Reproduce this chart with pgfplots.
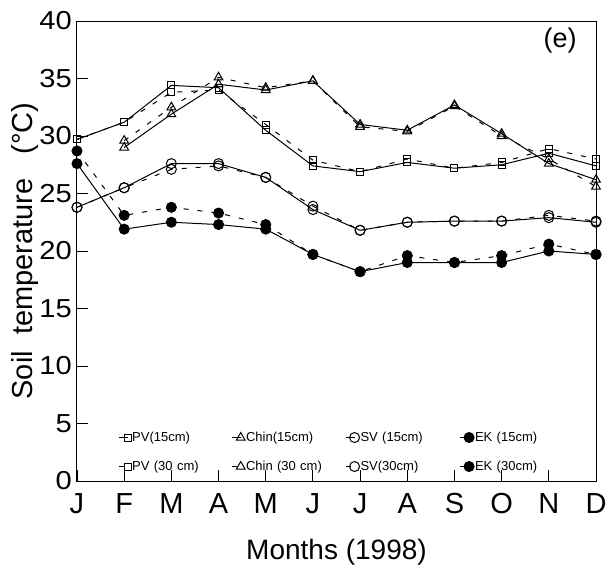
\documentclass[border=0pt]{standalone}
\usepackage{pgfplots}
\pgfplotsset{compat=1.18}
\usepackage{fontspec}
\setmainfont{Liberation Sans}
\newfontfamily\tickfont[FakeStretch=1.12]{Liberation Sans}
\begin{document}
\begin{tikzpicture}
\begin{axis}[
  scale only axis, width=519pt, height=460pt,
  at={(0,0)}, anchor=south west,
  xmin=0, xmax=11, ymin=0, ymax=40,
  xtick={0,...,11}, xticklabels={J,F,M,A,M,J,J,A,S,O,N,D},
  ytick={0,5,...,40},
  xtick pos=left, ytick pos=left,
  tick align=inside, major tick length=11pt,
  axis line style={line width=1pt},
  tick style={line width=0.9pt, black},
  /pgf/number format/assume math mode=true,
  yticklabel style={font=\tickfont\fontsize{26}{26}\selectfont, inner sep=5pt},
  xticklabel style={font=\fontsize{29}{29}\selectfont, yshift=-9pt},
  xlabel={Months (1998)}, ylabel={Soil\ \ temperature\ \ \ (°C)},
  every axis x label/.style={at={(axis description cs:0.5,-0.1543)}, anchor=center, font=\fontsize{28}{28}\selectfont},
  every axis y label/.style={at={(axis description cs:-0.1002,0.5)}, anchor=center, rotate=90, font=\fontsize{29}{29}\selectfont},
  legend columns=4,
  legend cell align=left,
  legend style={draw=none, fill=none, at={(axis cs:0.87,4.45)}, anchor=north west,
    font=\fontsize{13}{13}\selectfont, row sep=14pt, inner sep=0pt,
    nodes={text width=98pt, inner sep=1pt, text height=10pt, text depth=3pt}},
  legend image code/.code={\draw[mark repeat=2, mark phase=2, #1] plot coordinates {(0pt,0pt) (9pt,0pt)};},
  every axis plot/.append style={line width=1pt, black},
]
% 15 cm (solid)
\addplot[solid, mark=square, mark size=3.5pt, mark options={fill=white}] coordinates {
(0,29.7)(1,31.2)(2,34.4)(3,34.2)(4,30.5)(5,27.4)(6,26.9)(7,27.7)(8,27.2)(9,27.5)(10,28.5)(11,27.4)};
\addlegendentry{PV(15cm)}
\addplot[solid, mark=triangle, mark size=5pt, mark options={fill=white}] coordinates {
(1,29.0)(2,31.9)(3,34.5)(4,34.0)(5,34.8)(6,31.0)(7,30.5)(8,32.7)(9,30.2)(10,27.6)(11,26.2)};
\addlegendentry{Chin(15cm)}
\addplot[solid, mark=o, mark size=5pt, mark options={fill=white}] coordinates {
(0,23.8)(1,25.5)(2,27.6)(3,27.6)(4,26.4)(5,23.6)(6,21.8)(7,22.5)(8,22.6)(9,22.6)(10,22.9)(11,22.5)};
\addlegendentry{SV (15cm)}
\addplot[solid, mark=*, mark size=5pt] coordinates {
(0,27.6)(1,21.9)(2,22.5)(3,22.3)(4,21.9)(5,19.7)(6,18.2)(7,19.0)(8,19.0)(9,19.0)(10,20.0)(11,19.7)};
\addlegendentry{EK (15cm)}
% 30 cm (dashed)
\addplot[dash pattern=on 5pt off 9pt, mark=square, mark size=3.5pt, mark options={solid, fill=white}] coordinates {
(0,29.7)(1,31.2)(2,33.8)(3,34.0)(4,31.0)(5,27.9)(6,26.9)(7,28.0)(8,27.2)(9,27.7)(10,28.9)(11,28.0)};
\addlegendentry{PV (30 cm)}
\addplot[dash pattern=on 5pt off 9pt, mark=triangle, mark size=5pt, mark options={solid, fill=white}] coordinates {
(1,29.6)(2,32.5)(3,35.1)(4,34.2)(5,34.8)(6,30.8)(7,30.4)(8,32.6)(9,30.0)(10,28.0)(11,25.6)};
\addlegendentry{Chin (30 cm)}
\addplot[dash pattern=on 5pt off 9pt, mark=o, mark size=5pt, mark options={solid, fill=white}] coordinates {
(0,23.8)(1,25.5)(2,27.1)(3,27.4)(4,26.4)(5,23.9)(6,21.8)(7,22.5)(8,22.6)(9,22.6)(10,23.1)(11,22.6)};
\addlegendentry{SV(30cm)}
\addplot[dash pattern=on 5pt off 9pt, mark=*, mark size=5pt, mark options={solid}] coordinates {
(0,28.7)(1,23.1)(2,23.8)(3,23.3)(4,22.3)(5,19.7)(6,18.2)(7,19.6)(8,19.0)(9,19.6)(10,20.6)(11,19.7)};
\addlegendentry{EK (30cm)}
\node[font=\fontsize{27}{27}\selectfont] at (axis cs:10.24,38.26) {(e)};
\end{axis}
\pgfresetboundingbox
\path (-77pt,-93pt) rectangle (531pt,481pt);
\end{tikzpicture}
\end{document}
